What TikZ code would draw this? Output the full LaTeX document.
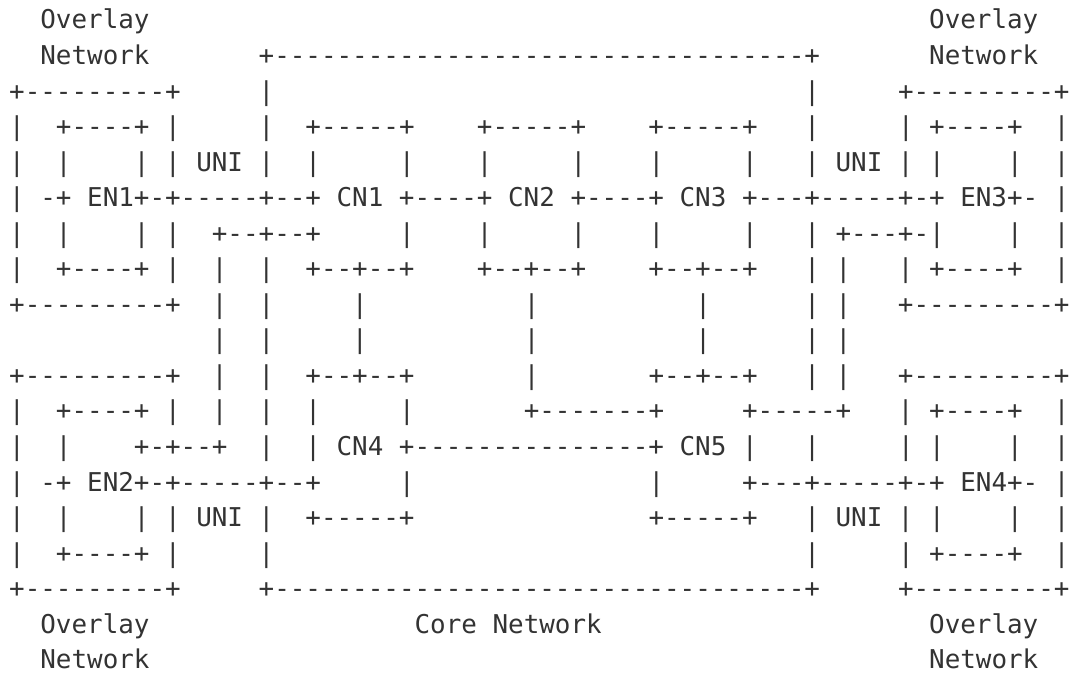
\documentclass[tikz,border=0pt]{standalone}
\usepackage{fontspec}
\setmonofont{DejaVu Sans Mono}
\usetikzlibrary{positioning}
\definecolor{asciigray}{HTML}{333333}
\newcommand\gap[1]{\hspace*{#1\fontcharwd\font`x}}
\tikzset{asciirow/.style={anchor=base west, inner sep=0pt, outer sep=0pt, text=asciigray,
    font=\fontsize{25.9pt}{35.5pt}\selectfont\ttfamily},
  nextrow/.style={asciirow, below=35.54pt of #1.base west, anchor=base west}}

\begin{document}
\begin{tikzpicture}
  \fill[white] (0,0) rectangle (1071pt,675pt);
  \useasboundingbox (0,0) rectangle (1071pt,675pt);
  \node[asciirow] (r1) at (9.2pt,646pt) {\gap{2}Overlay\gap{50}Overlay};
  \node[nextrow=r1] (r2) {\gap{2}Network\gap{7}+----------------------------------+\gap{7}Network};
  \node[nextrow=r2] (r3) {+---------+\gap{5}|\gap{34}|\gap{5}+---------+};
  \node[nextrow=r3] (r4) {|\gap{2}+----+ |\gap{5}|\gap{2}+-----+\gap{4}+-----+\gap{4}+-----+\gap{3}|\gap{5}| +----+\gap{2}|};
  \node[nextrow=r4] (r5) {|\gap{2}|\gap{4}| | UNI |\gap{2}|\gap{5}|\gap{4}|\gap{5}|\gap{4}|\gap{5}|\gap{3}| UNI | |\gap{4}|\gap{2}|};
  \node[nextrow=r5] (r6) {| -+ EN1+-+-----+--+ CN1 +----+ CN2 +----+ CN3 +---+-----+-+ EN3+- |};
  \node[nextrow=r6] (r7) {|\gap{2}|\gap{4}| |\gap{2}+--+--+\gap{5}|\gap{4}|\gap{5}|\gap{4}|\gap{5}|\gap{3}| +---+-|\gap{4}|\gap{2}|};
  \node[nextrow=r7] (r8) {|\gap{2}+----+ |\gap{2}|\gap{2}|\gap{2}+--+--+\gap{4}+--+--+\gap{4}+--+--+\gap{3}| |\gap{3}| +----+\gap{2}|};
  \node[nextrow=r8] (r9) {+---------+\gap{2}|\gap{2}|\gap{5}|\gap{10}|\gap{10}|\gap{6}| |\gap{3}+---------+};
  \node[nextrow=r9] (r10) {\gap{13}|\gap{2}|\gap{5}|\gap{10}|\gap{10}|\gap{6}| |};
  \node[nextrow=r10] (r11) {+---------+\gap{2}|\gap{2}|\gap{2}+--+--+\gap{7}|\gap{7}+--+--+\gap{3}| |\gap{3}+---------+};
  \node[nextrow=r11] (r12) {|\gap{2}+----+ |\gap{2}|\gap{2}|\gap{2}|\gap{5}|\gap{7}+-------+\gap{5}+-----+\gap{3}| +----+\gap{2}|};
  \node[nextrow=r12] (r13) {|\gap{2}|\gap{4}+-+--+\gap{2}|\gap{2}| CN4 +---------------+ CN5 |\gap{3}|\gap{5}| |\gap{4}|\gap{2}|};
  \node[nextrow=r13] (r14) {| -+ EN2+-+-----+--+\gap{5}|\gap{15}|\gap{5}+---+-----+-+ EN4+- |};
  \node[nextrow=r14] (r15) {|\gap{2}|\gap{4}| | UNI |\gap{2}+-----+\gap{15}+-----+\gap{3}| UNI | |\gap{4}|\gap{2}|};
  \node[nextrow=r15] (r16) {|\gap{2}+----+ |\gap{5}|\gap{34}|\gap{5}| +----+\gap{2}|};
  \node[nextrow=r16] (r17) {+---------+\gap{5}+----------------------------------+\gap{5}+---------+};
  \node[nextrow=r17] (r18) {\gap{2}Overlay\gap{17}Core Network\gap{21}Overlay};
  \node[nextrow=r18] (r19) {\gap{2}Network\gap{50}Network};
\end{tikzpicture}
\end{document}
